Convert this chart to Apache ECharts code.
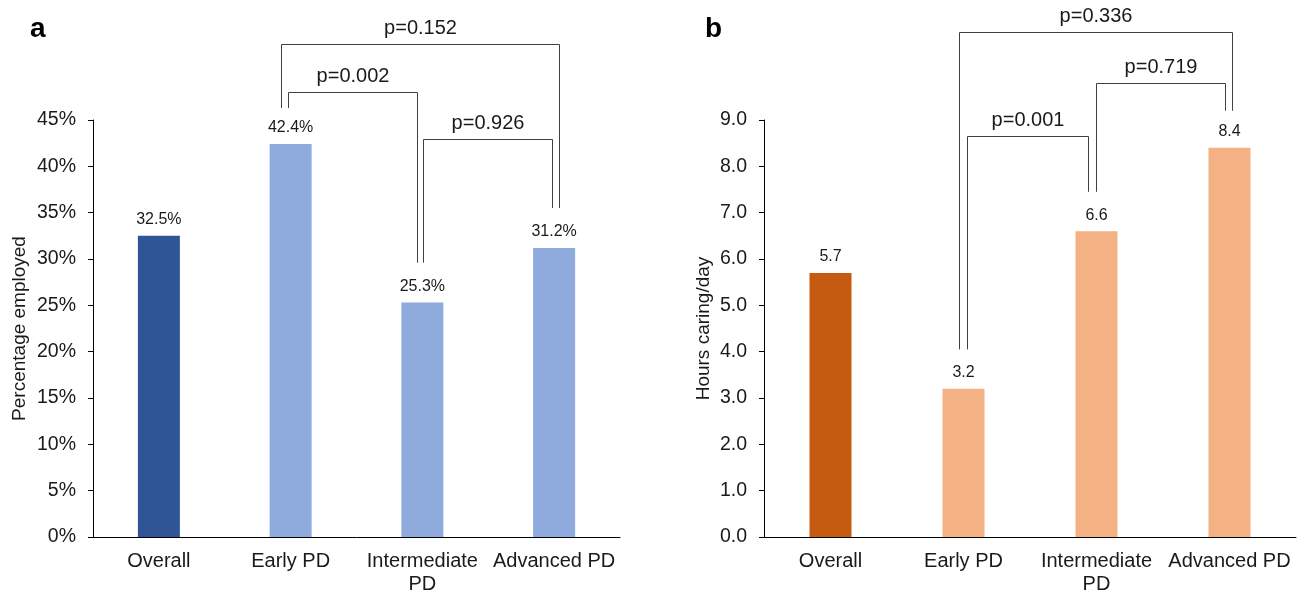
<!DOCTYPE html>
<html>
<head>
<meta charset="utf-8">
<script src="https://cdn.jsdelivr.net/npm/echarts@6/dist/echarts.min.js"></script>
<style>
html, body { margin: 0; padding: 0; background: #fff; }
#main { width: 1301px; height: 594px; }
</style>
</head>
<body>
<div id="main"></div>
<script>
// categories shared by both panels
var categories = ['Overall', 'Early PD', 'Intermediate\nPD', 'Advanced PD'];

// panel a: percentage employed
var employed = [32.5, 42.4, 25.3, 31.2];
var employedTicks = [0, 45, 5];
// brackets: [fromCat, toCat, topValue, endFromValue, endToValue]
var employedBrackets = [[1, 3, 53.2, 46.3, 35.5], [1, 2, 48.0, 46.3, 29.6], [2, 3, 43.0, 29.6, 35.5]];
var employedP = ['p=0.152', 'p=0.002', 'p=0.926'];

// panel b: hours caring per day
var hours = [5.7, 3.2, 6.6, 8.4];
var hoursTicks = [0, 9, 1];
var hoursBrackets = [[1, 3, 10.9, 4.05, 9.2], [2, 3, 9.8, 7.45, 9.2], [1, 2, 8.65, 4.05, 7.45]];
var hoursP = ['p=0.336', 'p=0.719', 'p=0.001'];

// small horizontal nudges (px) so the bracket legs sit side by side
var employedDx = [[-9.7, 4.5], [-3, -5.8], [0.5, -2.1]];
var hoursDx = [[-4.5, 2], [-1, -5], [3, -8.6]];

var textColor = '#1a1a1a';
var font = 'Liberation Sans, Arial, sans-serif';

function barColors(first, rest) {
    return function (p) { return p.dataIndex === 0 ? first : rest; };
}

function bracketRenderer(labels, dx) {
    return function (params, api) {
        var i = params.dataIndex;
        var a = api.coord([api.value(0), api.value(2)]);
        var b = api.coord([api.value(1), api.value(2)]);
        var a2 = api.coord([api.value(0), api.value(3)]);
        var b2 = api.coord([api.value(1), api.value(4)]);
        var x1 = Math.round(a[0] + dx[i][0]) + 0.5;
        var x2 = Math.round(b[0] + dx[i][1]) + 0.5;
        var yt = Math.round(a[1]) + 0.5;
        return {
            type: 'group',
            children: [{
                type: 'polyline',
                shape: { points: [[x1, a2[1]], [x1, yt], [x2, yt], [x2, b2[1]]] },
                style: { stroke: '#404040', lineWidth: 1, fill: null }
            }, {
                type: 'text',
                style: {
                    x: (x1 + x2) / 2, y: yt - 6,
                    text: labels[i],
                    fill: textColor,
                    font: '20px ' + font,
                    align: 'center', verticalAlign: 'bottom'
                }
            }]
        };
    };
}

function xAxisOpt(idx) {
    return {
        type: 'category', gridIndex: idx, data: categories,
        axisLine: { lineStyle: { color: '#000', width: 1 } },
        axisTick: { show: false },
        axisLabel: { color: textColor, fontSize: 20, fontFamily: font, margin: 13, lineHeight: 23, interval: 0 }
    };
}

function yAxisOpt(idx, ticks, name, gap, fmt) {
    return {
        type: 'value', gridIndex: idx,
        min: ticks[0], max: ticks[1], interval: ticks[2],
        name: name, nameLocation: 'middle', nameGap: gap, nameRotate: 90,
        nameTextStyle: { color: textColor, fontSize: 19, fontFamily: font },
        axisLine: { show: true, lineStyle: { color: '#000', width: 1 } },
        axisTick: { show: true, length: 5, lineStyle: { color: '#000' } },
        splitLine: { show: false },
        axisLabel: { color: textColor, fontSize: 19.5, fontFamily: font, margin: 17, formatter: fmt }
    };
}

var myChart = echarts.init(document.getElementById('main'));

var option = {
    animation: false,
    backgroundColor: '#fff',
    title: [
        { text: 'a', left: 25, top: 10, textStyle: { fontSize: 28, fontWeight: 'bold', color: '#000', fontFamily: font } },
        { text: 'b', left: 700, top: 10, textStyle: { fontSize: 28, fontWeight: 'bold', color: '#000', fontFamily: font } }
    ],
    grid: [
        { left: 93, top: 120, width: 527, height: 417, outerBoundsMode: 'none' },
        { left: 764, top: 120, width: 532, height: 417, outerBoundsMode: 'none' }
    ],
    xAxis: [xAxisOpt(0), xAxisOpt(1)],
    yAxis: [
        yAxisOpt(0, employedTicks, 'Percentage employed', 64, '{value}%'),
        yAxisOpt(1, hoursTicks, 'Hours caring/day', 51, function (v) { return v.toFixed(1); })
    ],
    series: [
        {
            type: 'bar', xAxisIndex: 0, yAxisIndex: 0, data: employed, barWidth: 42,
            itemStyle: { color: barColors('#2F5597', '#8FAADC') },
            label: { show: true, position: 'top', distance: 8, color: textColor, fontSize: 16, fontFamily: font,
                formatter: function (p) { return p.value.toFixed(1) + '%'; } }
        },
        {
            type: 'bar', xAxisIndex: 1, yAxisIndex: 1, data: hours, barWidth: 42,
            itemStyle: { color: barColors('#C55A11', '#F4B183') },
            label: { show: true, position: 'top', distance: 8, color: textColor, fontSize: 16, fontFamily: font,
                formatter: function (p) { return p.value.toFixed(1); } }
        },
        {
            type: 'custom', xAxisIndex: 0, yAxisIndex: 0, clip: false, silent: true,
            data: employedBrackets, renderItem: bracketRenderer(employedP, employedDx)
        },
        {
            type: 'custom', xAxisIndex: 1, yAxisIndex: 1, clip: false, silent: true,
            data: hoursBrackets, renderItem: bracketRenderer(hoursP, hoursDx)
        }
    ]
};

myChart.setOption(option);
</script>
</body>
</html>
